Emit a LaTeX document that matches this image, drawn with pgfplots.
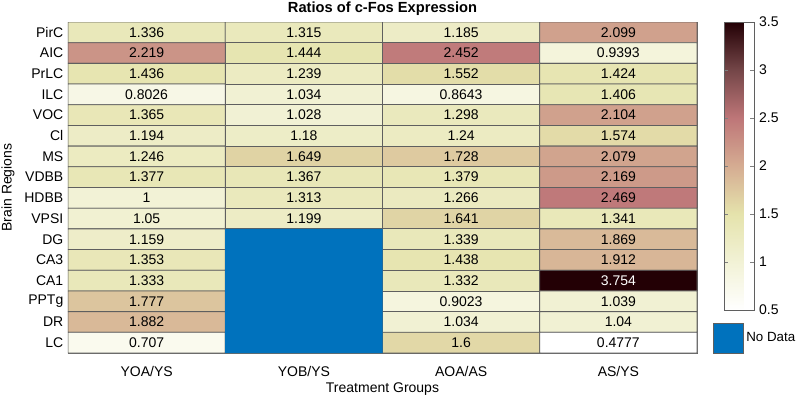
\documentclass[border=0pt]{standalone}
\usepackage{pgfplots}
\pgfplotsset{compat=1.18}
\usepackage{fontspec}
\setmainfont{Liberation Sans}
\definecolor{nodata}{RGB}{0,114,189}
\definecolor{gridc}{RGB}{95,95,95}
\begin{document}
\begin{tikzpicture}
\path[use as bounding box] (0,0) rectangle (600pt,300pt);
\begin{axis}[
  at={(51pt,35.25pt)}, anchor=south west,
  scale only axis, width=471.75pt, height=248.25pt,
  font=\fontsize{10.5}{12}\selectfont,
  /pgf/number format/assume math mode=true,
  xmin=-0.5, xmax=3.5, ymin=-0.5, ymax=15.5, y dir=reverse,
  xtick={0,1,2,3}, xticklabels={YOA/YS,YOB/YS,AOA/AS,AS/YS},
  ytick={0,...,15},
  yticklabels={PirC,AIC,PrLC,ILC,VOC,Cl,MS,VDBB,HDBB,VPSI,DG,CA3,CA1,PPTg,DR,LC},
  major tick length=0pt,
  xticklabel style={anchor=center, yshift=-13.5pt},
  axis line style={gridc},
  title={\bfseries Ratios of c-Fos Expression},
  every axis title/.style={at={(axis description cs:0.5,1)}, anchor=center, yshift=10pt, font=\fontsize{11}{13}\selectfont},
  xlabel={Treatment Groups},
  every axis x label/.style={at={(axis description cs:0.5,-0.1088)}, anchor=center},
  ylabel={Brain Regions},
  every axis y label/.style={at={(axis description cs:-0.0954,0.5)}, rotate=90, anchor=center},
  colormap={fos}{rgb255(0)=(255,255,255) rgb255(1)=(242,242,214) rgb255(2)=(229,227,172) rgb255(3)=(213,172,146) rgb255(4)=(190,118,120) rgb255(5)=(116,70,72) rgb255(6)=(35,0,5)},
  point meta min=0.5, point meta max=3.5,
  colorbar,
  colorbar style={
    at={(parent axis.north east)}, anchor=north west, xshift=12pt,
    width=22.5pt, height=216pt,
    ytick={0.5,1,...,3.5},
    /pgf/number format/assume math mode=true,
    yticklabel style={font=\fontsize{10.5}{12}\selectfont, /pgf/number format/assume math mode=true},
    major tick length=3pt,
    axis line style={gridc},
  },
  legend style={at={(axis description cs:1.0254,0.0453)}, anchor=west, draw=none, fill=none, inner sep=0pt, outer sep=0pt, font=\fontsize{10}{12}\selectfont, legend cell align=left},
]
\addplot[matrix plot*, mesh/cols=4, point meta=explicit, draw=gridc, line width=0.6pt, forget plot]
table[x=x, y=y, meta=v] {
x y v
0 0 1.336
1 0 1.315
2 0 1.185
3 0 2.099
0 1 2.219
1 1 1.444
2 1 2.452
3 1 0.9393
0 2 1.436
1 2 1.239
2 2 1.552
3 2 1.424
0 3 0.8026
1 3 1.034
2 3 0.8643
3 3 1.406
0 4 1.365
1 4 1.028
2 4 1.298
3 4 2.104
0 5 1.194
1 5 1.18
2 5 1.24
3 5 1.574
0 6 1.246
1 6 1.649
2 6 1.728
3 6 2.079
0 7 1.377
1 7 1.367
2 7 1.379
3 7 2.169
0 8 1
1 8 1.313
2 8 1.266
3 8 2.469
0 9 1.05
1 9 1.199
2 9 1.641
3 9 1.341
0 10 1.159
1 10 1
2 10 1.339
3 10 1.869
0 11 1.353
1 11 1
2 11 1.438
3 11 1.912
0 12 1.333
1 12 1
2 12 1.332
3 12 3.754
0 13 1.777
1 13 1
2 13 0.9023
3 13 1.039
0 14 1.882
1 14 1
2 14 1.034
3 14 1.04
0 15 0.707
1 15 1
2 15 1.6
3 15 0.4777
};
\addplot[fill=nodata, draw=none,
  legend image code/.code={\path[fill=nodata, draw=gridc, line width=0.5pt] (0pt,-11.25pt) rectangle (22.5pt,11.25pt);}]
coordinates {(0.5,9.5) (1.5,9.5) (1.5,15.5) (0.5,15.5) (0.5,9.5)};
\addlegendentry{No Data}
\addplot[draw=none, mark=none, forget plot, nodes near coords, point meta=explicit symbolic,
  nodes near coords style={anchor=center, font=\fontsize{10.5}{12}\selectfont, text=black}]
table[x=x, y=y, meta=t] {
x y t
0 0 1.336
1 0 1.315
2 0 1.185
3 0 2.099
0 1 2.219
1 1 1.444
2 1 2.452
3 1 0.9393
0 2 1.436
1 2 1.239
2 2 1.552
3 2 1.424
0 3 0.8026
1 3 1.034
2 3 0.8643
3 3 1.406
0 4 1.365
1 4 1.028
2 4 1.298
3 4 2.104
0 5 1.194
1 5 1.18
2 5 1.24
3 5 1.574
0 6 1.246
1 6 1.649
2 6 1.728
3 6 2.079
0 7 1.377
1 7 1.367
2 7 1.379
3 7 2.169
0 8 1
1 8 1.313
2 8 1.266
3 8 2.469
0 9 1.05
1 9 1.199
2 9 1.641
3 9 1.341
0 10 1.159
2 10 1.339
3 10 1.869
0 11 1.353
2 11 1.438
3 11 1.912
0 12 1.333
2 12 1.332
0 13 1.777
2 13 0.9023
3 13 1.039
0 14 1.882
2 14 1.034
3 14 1.04
0 15 0.707
2 15 1.6
3 15 0.4777
};
\addplot[draw=none, mark=none, forget plot, nodes near coords, point meta=explicit symbolic,
  nodes near coords style={anchor=center, font=\fontsize{10.5}{12}\selectfont, text=white}]
table[x=x, y=y, meta=t] {
x y t
3 12 3.754
};
\end{axis}
\end{tikzpicture}
\end{document}
